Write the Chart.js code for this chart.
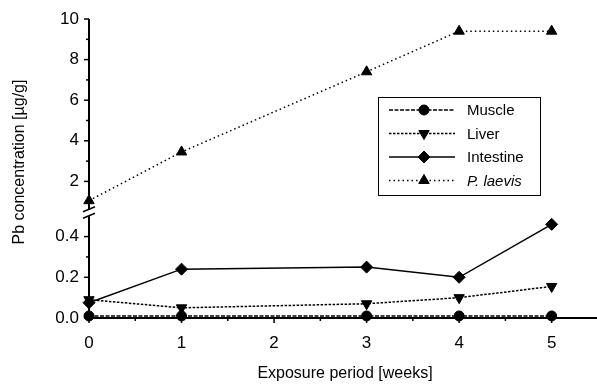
<!DOCTYPE html>
<html>
<head>
<meta charset="utf-8">
<script src="https://cdn.jsdelivr.net/npm/chart.js@4/dist/chart.umd.min.js"></script>
<style>
  html, body { margin: 0; background: #fff; }
  #wrap { width: 597px; height: 387px; }
</style>
</head>
<body>
<div id="wrap"><canvas id="c"></canvas></div>
<script>
// data
const weeks = [0, 1, 3, 4, 5];
const muscle = [0.01, 0.01, 0.01, 0.01, 0.01];
const liver = [0.09, 0.05, 0.07, 0.10, 0.155];
const intestine = [0.075, 0.24, 0.25, 0.20, 0.46];
const laevis = [1.05, 3.45, 7.4, 9.4, 9.4];

const xTicks = [0, 1, 2, 3, 4, 5];
const xMinor = [0.5, 1.5, 2.5, 3.5, 4.5];
const lowTicks = [0, 0.2, 0.4];
const lowMinor = [0.1, 0.3];
const upTicks = [2, 4, 6, 8, 10];
const upMinor = [3, 5, 7, 9];

const FONT = '"Liberation Sans", Arial, sans-serif';

function pts(ys) {
    return weeks.map((w, i) => ({ x: w, y: ys[i] }));
}

const axesPlugin = {
    id: 'axes',
    beforeDatasetsDraw(chart) {
        const ctx = chart.ctx;
        const sx = chart.scales.x, lo = chart.scales.yLow, up = chart.scales.yUp;
        const ax = sx.getPixelForValue(0);
        const bottom = lo.getPixelForValue(0);
        const upEnd = up.getPixelForValue(0.6);
        const loEnd = lo.getPixelForValue(0.5);
        ctx.save();
        ctx.strokeStyle = '#000';
        ctx.fillStyle = '#000';
        ctx.lineWidth = 2;
        const seg = (x1, y1, x2, y2) => { ctx.beginPath(); ctx.moveTo(x1, y1); ctx.lineTo(x2, y2); ctx.stroke(); };

        // y axis in two pieces with a break
        seg(ax, up.getPixelForValue(10), ax, upEnd);
        seg(ax, loEnd, ax, bottom);
        ctx.lineWidth = 1.5;
        seg(ax - 6, upEnd + 2, ax + 6, upEnd - 3);
        seg(ax - 6, loEnd + 2, ax + 6, loEnd - 3);

        // x axis
        ctx.lineWidth = 2;
        seg(ax, bottom, 597, bottom);

        ctx.lineWidth = 1.5;
        ctx.font = '17px ' + FONT;
        ctx.textAlign = 'right';
        ctx.textBaseline = 'middle';
        upTicks.forEach(v => {
            const y = up.getPixelForValue(v);
            seg(ax - 5, y, ax, y);
            ctx.fillText(String(v), ax - 10, y);
        });
        upMinor.forEach(v => { const y = up.getPixelForValue(v); seg(ax - 3, y, ax, y); });
        lowTicks.forEach(v => {
            const y = lo.getPixelForValue(v);
            seg(ax - 5, y, ax, y);
            ctx.fillText(v.toFixed(1), ax - 10, y);
        });
        lowMinor.forEach(v => { const y = lo.getPixelForValue(v); seg(ax - 3, y, ax, y); });

        ctx.textAlign = 'center';
        xTicks.forEach(v => {
            const x = sx.getPixelForValue(v);
            seg(x, bottom, x, bottom + 5);
            ctx.fillText(String(v), x, bottom + 25);
        });
        xMinor.forEach(v => { const x = sx.getPixelForValue(v); seg(x, bottom, x, bottom + 3); });

        // axis titles
        ctx.font = '16px ' + FONT;
        ctx.fillText('Exposure period [weeks]', 345, 374);
        ctx.save();
        ctx.translate(20, 162);
        ctx.rotate(-Math.PI / 2);
        ctx.fillText('Pb concentration [µg/g]', 0, 0);
        ctx.restore();
        ctx.restore();
    },
    afterDraw(chart) {
        // boxed legend with line + marker samples
        const ctx = chart.ctx;
        const left = 378, top = 97, right = 540, bottom = 195;
        ctx.save();
        ctx.strokeStyle = '#000';
        ctx.lineWidth = 1;
        ctx.strokeRect(left + 0.5, top + 0.5, right - left, bottom - top);
        ctx.font = '15px ' + FONT;
        ctx.textAlign = 'left';
        ctx.textBaseline = 'middle';
        ctx.fillStyle = '#000';
        chart.data.datasets.forEach((ds, i) => {
            const y = 110 + i * 23.5;
            ctx.save();
            ctx.lineWidth = ds.borderWidth;
            ctx.setLineDash(ds.borderDash || []);
            ctx.beginPath();
            ctx.moveTo(389, y);
            ctx.lineTo(455, y);
            ctx.stroke();
            ctx.restore();
            Chart.helpers.drawPoint(ctx, {
                pointStyle: ds.pointStyle,
                radius: ds.pointRadius,
                rotation: ds.pointRotation || 0,
                borderWidth: 1
            }, 424, y);
            ctx.font = (ds.italic ? 'italic ' : '') + '15px ' + FONT;
            ctx.fillText(ds.label, 467, y + 1);
        });
        ctx.restore();
    }
};

const common = {
    borderColor: '#000',
    backgroundColor: '#000',
    pointBackgroundColor: '#000',
    pointBorderColor: '#000',
    pointBorderWidth: 1,
    borderWidth: 1.5,
    clip: false,
    tension: 0
};

new Chart(document.getElementById('c'), {
    type: 'line',
    data: {
        datasets: [
            Object.assign({}, common, {
                label: 'Muscle', data: pts(muscle), yAxisID: 'yLow',
                borderDash: [4, 1.5], pointStyle: 'circle', pointRadius: 5
            }),
            Object.assign({}, common, {
                label: 'Liver', data: pts(liver), yAxisID: 'yLow',
                borderDash: [2.5, 1.5], pointStyle: 'triangle', pointRadius: 6, pointRotation: 180
            }),
            Object.assign({}, common, {
                label: 'Intestine', data: pts(intestine), yAxisID: 'yLow',
                pointStyle: 'rectRot', pointRadius: 6
            }),
            Object.assign({}, common, {
                label: 'P. laevis', data: pts(laevis), yAxisID: 'yUp', italic: true,
                borderDash: [1.5, 3], pointStyle: 'triangle', pointRadius: 6
            })
        ]
    },
    options: {
        responsive: true,
        maintainAspectRatio: false,
        animation: false,
        layout: { autoPadding: false, padding: { left: 89, right: 0, top: 19, bottom: 69 } },
        plugins: { legend: { display: false }, tooltip: { enabled: false } },
        scales: {
            x: { type: 'linear', min: 0, max: 5.49, display: false },
            yLow: { type: 'linear', min: 0, max: 1.469, display: false },
            yUp: { type: 'linear', min: -4.73, max: 10, display: false }
        }
    },
    plugins: [axesPlugin]
});
</script>
</body>
</html>
